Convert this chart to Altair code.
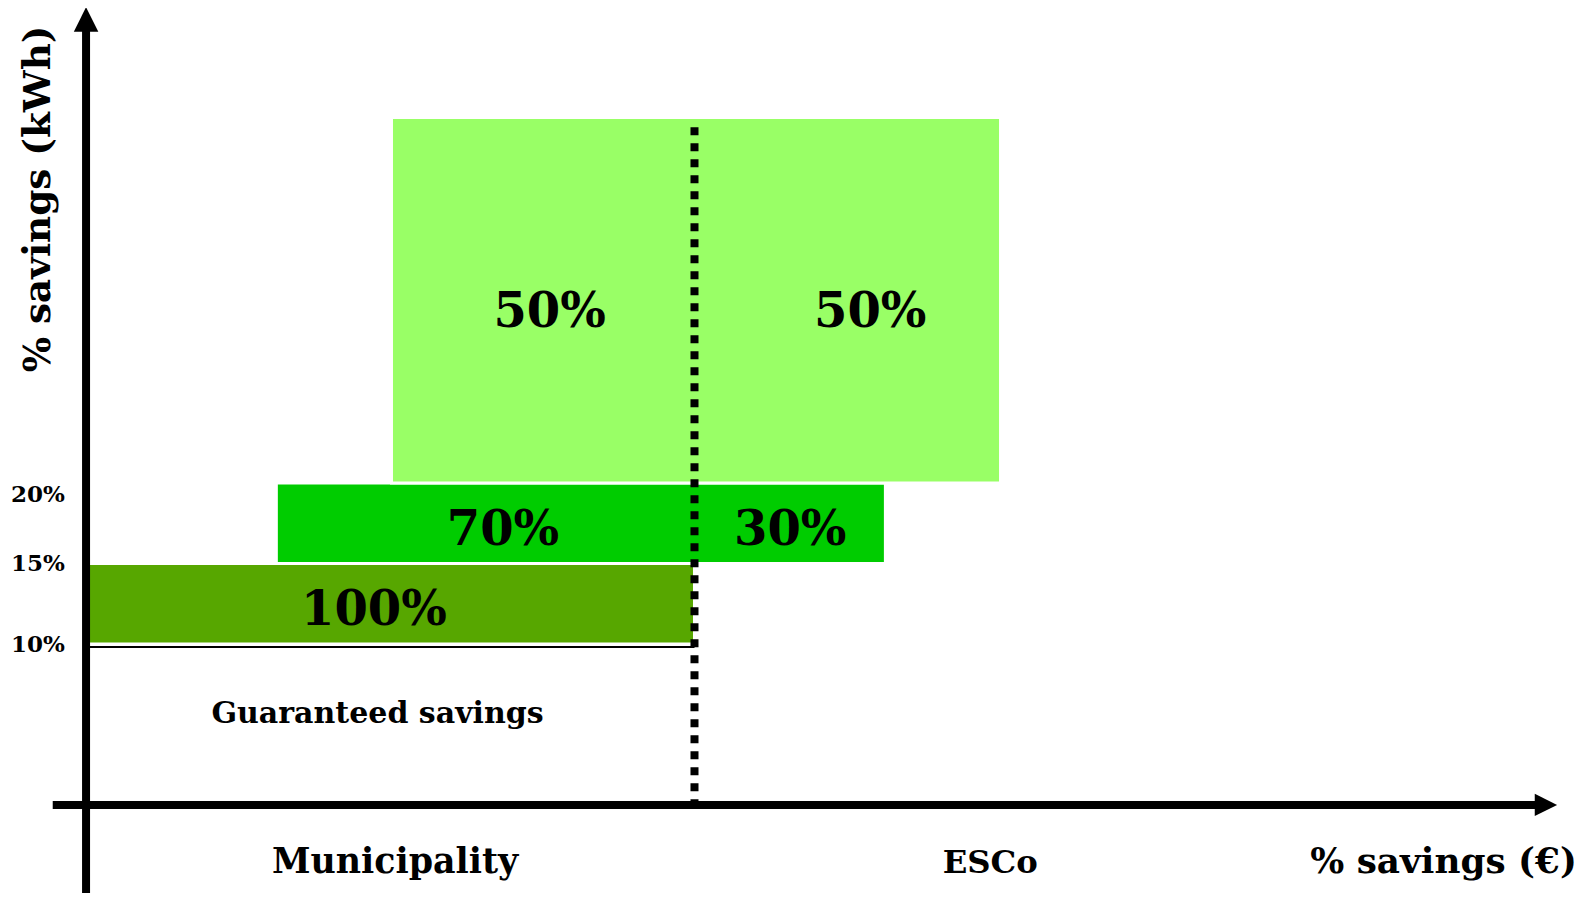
import altair as alt
import pandas as pd

# ---------------- values ----------------
# kWh-savings bands (% of kWh saved), bottom to top
band_low = [10, 15, 20]
band_high = [15, 20, 42.7]
# split of the € savings in each band: Municipality part (left of split), ESCo part (right)
municipality_part = [100, 69, 50]
esco_part = [0, 31.5, 50.5]
band_colors = ["#57A700", "#00CC00", "#99FF66"]

# share labels inside the bands
share_labels = ["100%", "70%", "30%", "50%", "50%"]
share_label_x = [-52.9, -31.6, 15.8, -23.9, 29.0]
share_label_y = [11.2, 16.15, 16.15, 29.7, 29.7]

# y tick labels (kWh savings)
tick_labels = ["20%", "15%", "10%"]
tick_label_y = [18.8, 14.5, 9.5]

# x-side labels
side_labels = ["Municipality", "ESCo", "% savings (€)"]
side_label_x = [-49.4, 48.8, 123.6]

guaranteed_label = "Guaranteed savings"
y_title = "% savings (kWh)"

# ---------------- chart ----------------
X = alt.Scale(domain=[-113.28, 146.78], nice=False, zero=False)
Y = alt.Scale(domain=[-5.47, 49.50], nice=False, zero=False)
FONT = "DejaVu Serif"


def enc(ch):
    return ch.encode(x=alt.X("x:Q", scale=X, axis=None), y=alt.Y("y:Q", scale=Y, axis=None))


def text_layer(labels, xs, ys, size, align="center", angle=0):
    df = pd.DataFrame({"t": labels, "x": xs, "y": ys})
    kw = dict(font=FONT, fontWeight="bold", fontSize=size, color="black",
              align=align, baseline="alphabetic")
    if angle:
        kw["angle"] = angle
    return enc(alt.Chart(df).mark_text(**kw)).encode(text="t:N")


bands = pd.DataFrame({
    "lo": band_low, "hi": band_high,
    "m": [-v for v in municipality_part], "e": esco_part, "c": band_colors,
})

rects = alt.Chart(bands).mark_rect(stroke="white", strokeWidth=3).encode(
    x=alt.X("m:Q", scale=X, axis=None), x2="e:Q",
    y=alt.Y("lo:Q", scale=Y, axis=None), y2="hi:Q",
    color=alt.Color("c:N", scale=None),
)

# thin line under the guaranteed band
base_line = enc(alt.Chart(pd.DataFrame({"x": [-100], "x2": [0], "y": [9.81]})).mark_rule(
    color="black", strokeWidth=2)).encode(x2="x2:Q")

# dotted split line
split = enc(alt.Chart(pd.DataFrame({"x": [0], "y": [42.1], "y2": [0]})).mark_rule(
    color="black", strokeWidth=8, strokeDash=[8, 8], strokeCap="butt")).encode(y2="y2:Q")

# axes with arrows
y_axis = enc(alt.Chart(pd.DataFrame({"x": [-100.4], "y": [-5.47], "y2": [48.1]})).mark_rule(
    color="black", strokeWidth=8)).encode(y2="y2:Q")
x_axis = enc(alt.Chart(pd.DataFrame({"x": [-105.9], "x2": [138.8], "y": [0]})).mark_rule(
    color="black", strokeWidth=8)).encode(x2="x2:Q")

y_head = enc(alt.Chart(pd.DataFrame({"x": [-100.4], "y": [48.79]})).mark_point(
    shape="M-1,1L0,-1L1,1Z", filled=True, color="black", opacity=1, size=600, strokeWidth=0))
x_head = enc(alt.Chart(pd.DataFrame({"x": [140.5], "y": [0]})).mark_point(
    shape="M-1,-1L1,0L-1,1Z", filled=True, color="black", opacity=1, size=500, strokeWidth=0))

share_text = text_layer(share_labels, share_label_x, share_label_y, 48)
tick_text = text_layer(tick_labels, [-103.9] * 3, tick_label_y, 23, align="right")
muni_text = text_layer(side_labels[:1], side_label_x[:1], [-4.2], 34.8)
esco_text = text_layer(side_labels[1:2], side_label_x[1:2], [-4.2], 32.3)
eur_text = text_layer(side_labels[2:], side_label_x[2:], [-4.2], 35.8)
guar_text = text_layer([guaranteed_label], [-52.3], [5.09], 30)
ytitle_text = text_layer([y_title], [-106.4], [37.64], 37.3, angle=270)

chart = alt.layer(
    rects, base_line, split, y_axis, x_axis, y_head, x_head,
    share_text, tick_text, muni_text, esco_text, eur_text, guar_text, ytitle_text,
).properties(
    width=1576, height=885, padding=0, background="white",
    autosize=alt.AutoSizeParams(type="none"),
).configure_view(stroke=None)

chart.save("out.html", embed_options={"renderer": "svg", "actions": False})
